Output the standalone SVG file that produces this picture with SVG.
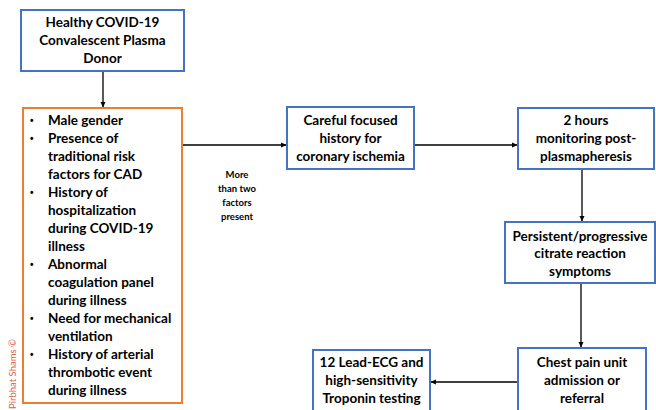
<svg xmlns="http://www.w3.org/2000/svg" width="656" height="410" viewBox="0 0 656 410">
<style>
.box{fill:#fff;stroke:#4472C4;stroke-width:2}
.obox{fill:#fff;stroke:#ED7D31;stroke-width:2}
text{font-family:Lato,"Liberation Sans",sans-serif;font-weight:bold;font-size:13.5px;fill:#000}
.c{text-anchor:middle}
.b{font-size:10px;font-family:"Liberation Sans",sans-serif}
.lbl{font-size:9.5px}
.wm{font-size:9.5px;font-weight:normal;fill:#d9604a}
.con{stroke:#000;stroke-width:1.3;fill:none}
</style>
<defs>
<marker id="ah" markerWidth="6" markerHeight="6" refX="5" refY="3" orient="auto" markerUnits="userSpaceOnUse">
<path d="M0,0.5 L5.5,3 L0,5.5 Z" fill="#000"/>
</marker>
</defs>
<rect width="656" height="410" fill="#fff"/>
<g id="connectors">
<line class="con" x1="103" y1="71" x2="103" y2="107" marker-end="url(#ah)"/>
<line class="con" x1="182" y1="145" x2="286" y2="145" marker-end="url(#ah)"/>
<line class="con" x1="414" y1="145" x2="517" y2="145" marker-end="url(#ah)"/>
<line class="con" x1="582" y1="169" x2="582" y2="221" marker-end="url(#ah)"/>
<line class="con" x1="581" y1="283" x2="581" y2="347" marker-end="url(#ah)"/>
<line class="con" x1="518" y1="382" x2="431" y2="382" marker-end="url(#ah)"/>
<text class="c lbl" x="237" y="178">More</text>
<text class="c lbl" x="237" y="192">than two</text>
<text class="c lbl" x="237" y="206">factors</text>
<text class="c lbl" x="237" y="220">present</text>
</g>
<g id="donor">
<rect class="box" x="21" y="10" width="163" height="61"/>
<text class="c" x="102.5" y="27">Healthy COVID-19</text>
<text class="c" x="102.5" y="45">Convalescent Plasma</text>
<text class="c" x="102.5" y="63">Donor</text>
</g>
<g id="factors">
<rect class="obox" x="23" y="108" width="159" height="295"/>
<g>
<text class="b" x="30" y="123.5">•</text><text x="48" y="124.5">Male gender</text>
<text class="b" x="30" y="141.5">•</text><text x="48" y="142.5">Presence of</text>
<text x="48" y="160.5">traditional risk</text>
<text x="48" y="178.5">factors for CAD</text>
<text class="b" x="30" y="195.5">•</text><text x="48" y="196.5">History of</text>
<text x="48" y="214.5">hospitalization</text>
<text x="48" y="232.5">during COVID-19</text>
<text x="48" y="250.5">illness</text>
<text class="b" x="30" y="267.5">•</text><text x="48" y="268.5">Abnormal</text>
<text x="48" y="286.5">coagulation panel</text>
<text x="48" y="304.5">during illness</text>
<text class="b" x="30" y="321.5">•</text><text x="48" y="322.5">Need for mechanical</text>
<text x="48" y="340.5">ventilation</text>
<text class="b" x="30" y="357.5">•</text><text x="48" y="358.5">History of arterial</text>
<text x="48" y="376.5">thrombotic event</text>
<text x="48" y="394.5">during illness</text>
</g>
</g>
<text class="wm" transform="translate(16,374) rotate(-90)" text-anchor="middle">Pirbhat Shams ©</text>
<g id="history">
<rect class="box" x="287" y="107" width="127" height="62"/>
<text class="c" x="350.5" y="125">Careful focused</text>
<text class="c" x="350.5" y="143">history for</text>
<text class="c" x="350.5" y="161">coronary ischemia</text>
</g>
<g id="monitoring">
<rect class="box" x="518" y="108" width="136" height="61"/>
<text class="c" x="586" y="125">2 hours</text>
<text class="c" x="586" y="143">monitoring post-</text>
<text class="c" x="586" y="161">plasmapheresis</text>
</g>
<g id="citrate">
<rect class="box" x="505" y="222" width="150" height="61"/>
<text class="c" x="580" y="241">Persistent/progressive</text>
<text class="c" x="580" y="258">citrate reaction</text>
<text class="c" x="580" y="276">symptoms</text>
</g>
<g id="chestpain">
<rect class="box" x="518" y="348" width="128" height="66"/>
<text class="c" x="582" y="367">Chest pain unit</text>
<text class="c" x="582" y="385">admission or</text>
<text class="c" x="582" y="403">referral</text>
</g>
<g id="ecg">
<rect class="box" x="313" y="350" width="117" height="64"/>
<text class="c" x="371.5" y="367">12 Lead-ECG and</text>
<text class="c" x="371.5" y="385">high-sensitivity</text>
<text class="c" x="371.5" y="403">Troponin testing</text>
</g>
</svg>
